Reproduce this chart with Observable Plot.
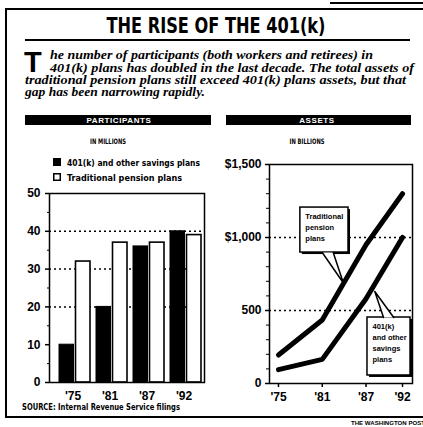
<!DOCTYPE html>
<html><head><meta charset="utf-8">
<script src="https://cdn.jsdelivr.net/npm/d3@7"></script>
<script src="https://cdn.jsdelivr.net/npm/@observablehq/plot@0.6"></script>
<style>
html,body{margin:0;padding:0;background:#fff;}
#page{position:relative;width:423px;height:427px;overflow:hidden;background:#fff;}
#page svg{position:absolute;margin:0;background:transparent;}
</style></head><body><div id="page"></div>
<script>
// ---------- data ----------
const years = ["'75", "'81", "'87", "'92"];
const participants401k = [10, 20, 36, 40];
const participantsPension = [32, 37, 37, 39];
const participantTicks = [0, 10, 20, 30, 40, 50];
const participantMinorTicks = [5, 15, 25, 35, 45];
const participantGrid = [20, 30, 40];

const assetYears = [1975, 1981, 1987, 1992];
const assets401k = [95, 165, 580, 1000];
const assetsPension = [195, 435, 950, 1300];
const assetTicks = [0, 500, 1000, 1500];
const assetTickLabels = ["0", "500", "$1,000", "$1,500"];
const assetMinorTicks = [100, 200, 300, 400, 600, 700, 800, 900, 1100, 1200, 1300, 1400];
const assetGrid = [500, 1000];

const seriesNames = ["401(k) and other savings plans", "Traditional pension plans"];
const calloutLabels = ["Traditional\npension\nplans", "401(k)\nand other\nsavings\nplans"];

const titleText = "THE RISE OF THE 401(k)";
const introLines = [
  "he number of participants (both workers and retirees) in",
  "401(k) plans has doubled in the last decade.  The total assets of",
  "traditional pension plans still exceed 401(k) plans assets, but that",
  "gap has been narrowing rapidly."
];
const panelTitles = ["PARTICIPANTS", "ASSETS"];
const panelUnits = ["IN MILLIONS", "IN BILLIONS"];
const sourceText = "SOURCE: Internal Revenue Service filings";
const creditText = "THE WASHINGTON POST";

// ---------- styling ----------
const SANS = "'Liberation Sans', Arial, sans-serif";
const NARROW = "'DejaVu Sans Condensed', 'Liberation Sans', sans-serif";
const SERIF = "'Liberation Serif', 'DejaVu Serif', serif";
const page = document.getElementById("page");

// ---------- static text / frame overlay ----------
const ov = d3.create("svg").attr("width", 423).attr("height", 427)
  .style("left", "0px").style("top", "0px");
const rect = (x, y, w, h, fill = "#000") => ov.append("rect").attr("x", x).attr("y", y).attr("width", w).attr("height", h).attr("fill", fill);
const txt = (x, y, s, font, size, opts = {}) => {
  const t = ov.append("text").attr("x", x).attr("y", y).text(s)
    .style("font-family", font).style("font-size", size + "px").style("font-weight", opts.weight || "bold")
    .style("font-style", opts.style || "normal").attr("fill", opts.fill || "#000")
    .attr("text-anchor", opts.anchor || "start");
  if (opts.len) t.attr("textLength", opts.len).attr("lengthAdjust", "spacingAndGlyphs");
  if (opts.ls) t.style("letter-spacing", opts.ls + "px");
  return t;
};
rect(330, 2, 93, 2);
rect(5, 8, 418, 2);
rect(5, 8, 2, 410);
rect(5, 416, 418, 2);
txt(216, 33, titleText, NARROW, 22, {anchor: "middle", len: 219});
rect(25, 39, 385, 2);
txt(24, 72, "T", SANS, 29);
const introX = [50, 50, 25, 25], introY = [59, 72, 84, 96], introLen = [323, 364, 381, 180];
introLines.forEach((t, i) => txt(introX[i], introY[i], t, SERIF, 13.5, {style: "italic", len: introLen[i]}));
[[25, 186, 119, 108], [226, 185, 317, 307]].forEach(([x, w, cx, ux], i) => {
  rect(x, 115, w, 10);
  txt(cx, 123, panelTitles[i], SANS, 8, {anchor: "middle", fill: "#fff", ls: 0.6});
  txt(ux, 144, panelUnits[i], NARROW, 7.5, {anchor: "middle", len: [36, 35][i]});
});
rect(53, 158, 8, 8);
ov.append("rect").attr("x", 53.75).attr("y", 173.75).attr("width", 6.5).attr("height", 6.5)
  .attr("fill", "#fff").attr("stroke", "#000").attr("stroke-width", 1.5);
seriesNames.forEach((t, i) => txt(67, [166, 181][i], t, NARROW, 9.5, {len: [133, 115][i]}));
txt(22, 410, sourceText, NARROW, 8, {len: 158});
txt(351, 425, creditText, SANS, 5.5, {len: 74});

// ---------- left chart: participants ----------
const partRows = years.map((y, i) => ({year: y, k: participants401k[i], p: participantsPension[i]}));
const left = Plot.plot({
  width: 212, height: 220, marginLeft: 49, marginRight: 8, marginTop: 10, marginBottom: 21,
  style: {fontFamily: SANS, background: "transparent", color: "#000"},
  x: {type: "band", domain: years, range: [54, 206], paddingInner: 0.158, paddingOuter: 0.092, axis: null},
  y: {domain: [0, 50], axis: null},
  marks: [
    Plot.ruleY(participantGrid, {stroke: "#000", strokeWidth: 1.5, strokeDasharray: "2,3"}),
    Plot.barY(partRows, {x: "year", y: "k", fill: "#000", stroke: "#000", strokeWidth: 1, insetRight: 16.5}),
    Plot.barY(partRows, {x: "year", y: "p", fill: "#fff", stroke: "#000", strokeWidth: 1.6, insetLeft: 16.5}),
    Plot.frame({stroke: "#000", strokeWidth: 1.5}),
    Plot.axisY({ticks: participantTicks, tickSize: 4, tickPadding: 5, fontSize: 12, fontWeight: "bold", strokeWidth: 1.5, label: null}),
    Plot.axisY({ticks: participantMinorTicks, tickSize: 2, text: null, label: null}),
    Plot.axisX({tickSize: 0, tickPadding: 9, dx: -2, fontSize: 12, fontWeight: "bold", label: null})
  ]
});
left.style.left = "0px"; left.style.top = "183px";
page.appendChild(left);

// ---------- right chart: assets ----------
const assetRows = assetYears.map((yr, i) => ({year: yr, k: assets401k[i], p: assetsPension[i]}));
const callouts = [
  {label: calloutLabels[0], x1: 1978.0, x2: 1984.6, y1: 897, y2: 1205, baseY: 897, base: [1981.0, 1982.5], tip: [1983.9, 688]},
  {label: calloutLabels[1], x1: 1987.2, x2: 1993.1, y1: 55, y2: 452, baseY: 452, base: [1989.4, 1990.8], tip: [1988.2, 630]}
];
const pointerRows = callouts.flatMap((c, i) => [
  {id: i, x: c.base[0], y: c.baseY}, {id: i, x: c.tip[0], y: c.tip[1]}, {id: i, x: c.base[1], y: c.baseY}
]);
const right = Plot.plot({
  width: 212, height: 249, marginLeft: 58, marginRight: 11, marginTop: 10, marginBottom: 20,
  style: {fontFamily: SANS, background: "transparent", color: "#000"},
  x: {domain: [1973.77, 1993.37], axis: null},
  y: {domain: [0, 1500], axis: null},
  marks: [
    Plot.ruleY(assetGrid, {stroke: "#000", strokeWidth: 1.5, strokeDasharray: "2,3"}),
    Plot.frame({stroke: "#000", strokeWidth: 1.5}),
    Plot.line(assetRows, {x: "year", y: "p", stroke: "#000", strokeWidth: 5, strokeLinecap: "round", strokeLinejoin: "round"}),
    Plot.line(assetRows, {x: "year", y: "k", stroke: "#000", strokeWidth: 5, strokeLinecap: "round", strokeLinejoin: "round"}),
    Plot.rect(callouts, {x1: "x1", x2: "x2", y1: "y1", y2: "y2", fill: "#000", dx: 2, dy: 2}),
    Plot.rect(callouts, {x1: "x1", x2: "x2", y1: "y1", y2: "y2", fill: "#fff", stroke: "#000", strokeWidth: 1.5}),
    Plot.line(pointerRows, {x: "x", y: "y", z: "id", fill: "#fff", stroke: "#000", strokeWidth: 1.5}),
    Plot.text(callouts, {x: "x1", y: "y2", text: "label", textAnchor: "start", lineAnchor: "top", dx: 5, dy: 4,
      lineHeight: 1.45, fontSize: 7.5, fontWeight: "bold", fontFamily: SANS, fill: "#000"}),
    Plot.axisY({ticks: assetTicks, tickFormat: d => assetTickLabels[assetTicks.indexOf(d)], tickSize: 4, tickPadding: 4,
      fontSize: 12, fontWeight: "bold", strokeWidth: 1.5, label: null}),
    Plot.axisY({ticks: assetMinorTicks, tickSize: 3, text: null, label: null}),
    Plot.axisX({ticks: assetYears, tickFormat: d => years[assetYears.indexOf(d)], tickSize: 4, tickPadding: 5,
      fontSize: 12, fontWeight: "bold", strokeWidth: 1.5, label: null})
  ]
});
right.style.left = "211px"; right.style.top = "154px";
page.appendChild(right);

page.appendChild(ov.node());
</script></body></html>
